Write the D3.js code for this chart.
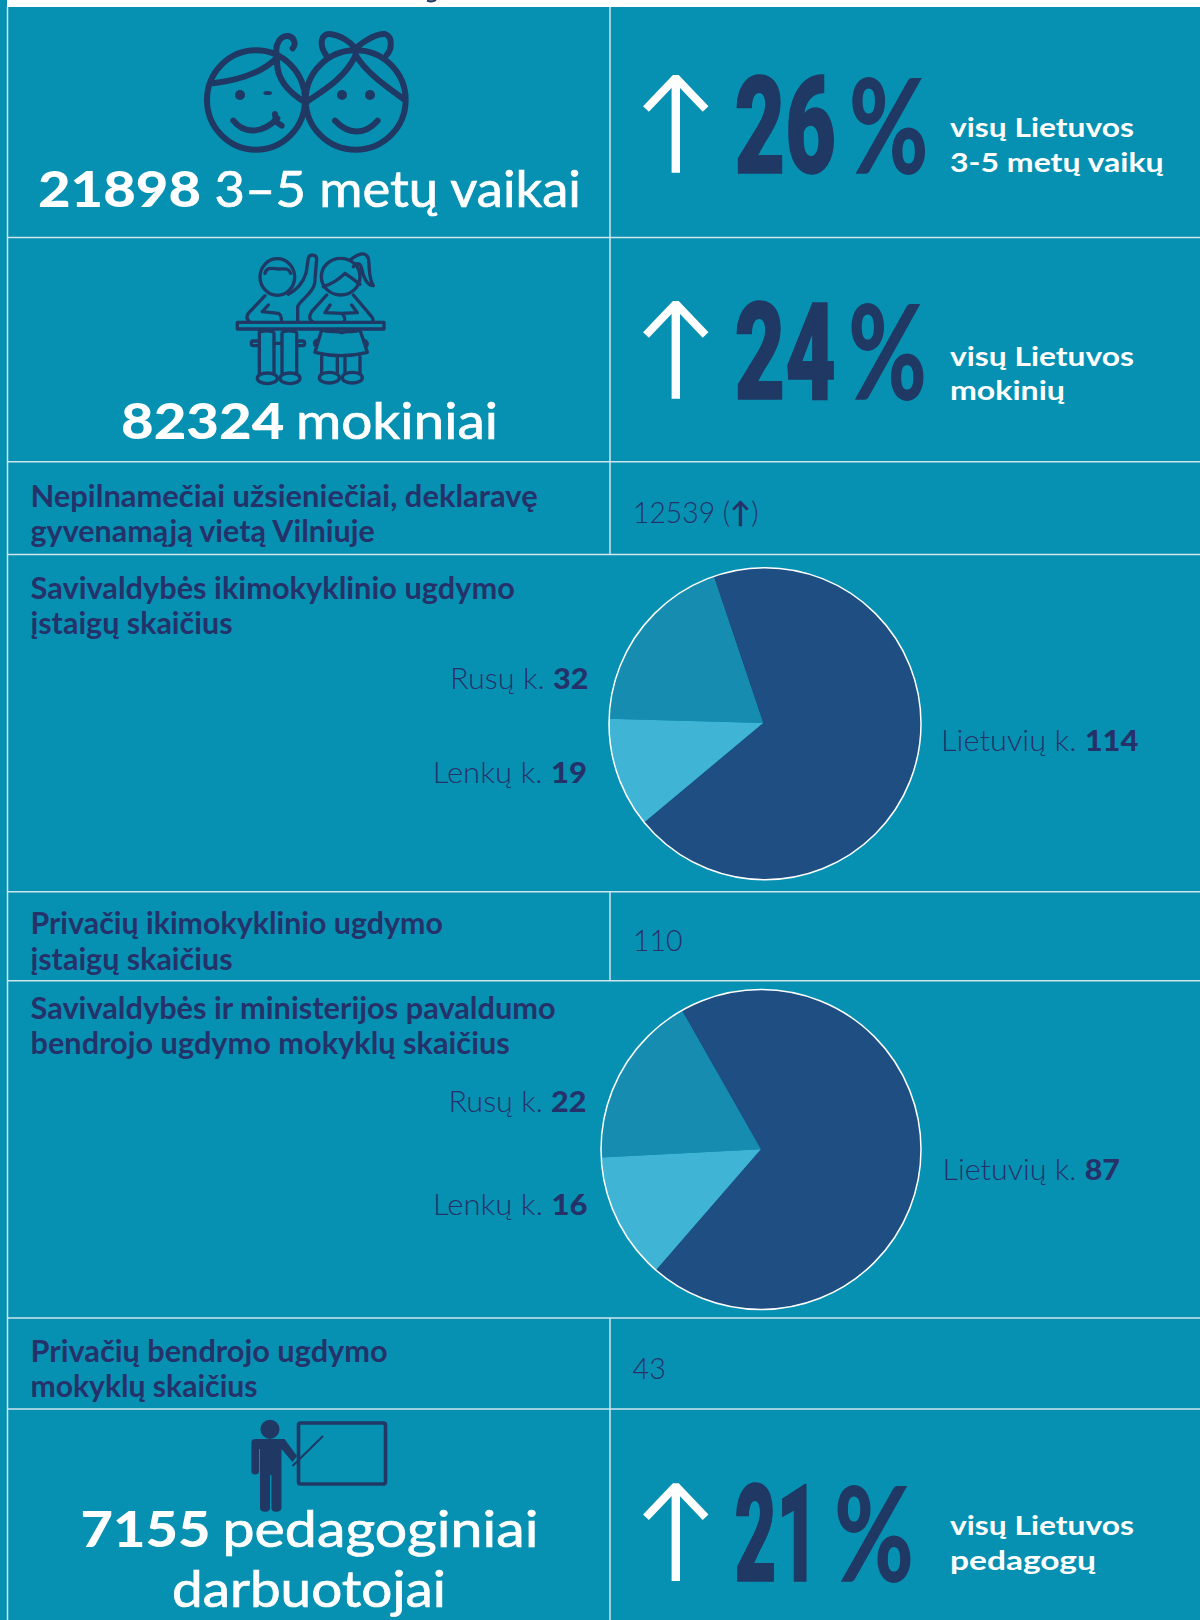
<!DOCTYPE html>
<html>
<head>
<meta charset="utf-8">
<script src="https://cdn.jsdelivr.net/npm/d3@7"></script>
<style>
    html, body { margin: 0; padding: 0; background: #fff; }
    svg { display: block; }
    text { font-family: Lato, "Noto Sans", sans-serif; }
</style>
</head>
<body>
<div id="chart"></div>
<script>
// chart values
let pieCategories = ["Lietuvių k.", "Lenkų k.", "Rusų k."];
let preschoolValues = [114, 19, 32];
let schoolValues = [87, 16, 22];

let statNumbers = ["21898", "82324", "7155"];
let statNames = ["3–5 metų vaikai", "mokiniai", "pedagoginiai"];
let statPercents = ["26", "24", "21"];
let statLine1 = ["visų Lietuvos", "visų Lietuvos", "visų Lietuvos"];
let statLine2 = ["3-5 metų vaikų", "mokinių", "pedagogų"];

let foreignValue = "12539";
let privatePreschoolValue = "110";
let privateSchoolValue = "43";

let bg = "#0691b2";
let lineColor = "#cfe6ee";
let navy = "#1f3864";
let labelNavy = "#25326a";
let pieColors = ["#1e4e82", "#3fb4d4", "#168db0"];

let width = 1200, height = 1620;

let svg = d3.select("#chart").append("svg")
    .attr("width", width)
    .attr("height", height);

svg.append("rect").attr("width", width).attr("height", height).attr("fill", bg);
svg.append("rect").attr("x", 7).attr("width", width - 7).attr("height", 7).attr("fill", "#fff");

// cut off descender from the title above
svg.append("path")
    .attr("d", "M427 0.6 Q432 2.4 436 0")
    .attr("fill", "none").attr("stroke", navy).attr("stroke-width", 2);

// grid
[237.5, 461.7, 554.5, 891.7, 980.7, 1318, 1409].forEach(y => {
    svg.append("line").attr("x1", 7.5).attr("x2", width).attr("y1", y).attr("y2", y)
        .attr("stroke", lineColor).attr("stroke-width", 1.5);
});
svg.append("line").attr("x1", 7.5).attr("x2", 7.5).attr("y1", 7).attr("y2", height)
    .attr("stroke", lineColor).attr("stroke-width", 1.5);
[[7, 554.5], [891.7, 980.7], [1318, 1620]].forEach(s => {
    svg.append("line").attr("x1", 610).attr("x2", 610).attr("y1", s[0]).attr("y2", s[1])
        .attr("stroke", lineColor).attr("stroke-width", 1.5);
});

// text squeezed or stretched to span x0..x1, the picture's font isn't available
function fitText(parts, x0, x1, y, size, fill) {
    let t = svg.append("text")
        .attr("font-size", size)
        .attr("fill", fill);
    parts.forEach(p => {
        t.append("tspan").attr("font-weight", p.w).text(p.t);
    });
    let box = t.node().getBBox();
    let sx = (x1 - x0) / box.width;
    t.attr("transform", `translate(${x0 - box.x * sx},${y}) scale(${sx},1)`);
    return t;
}

// big white headings, number and name are fitted on their own
function heading(number, numEnd, name, x0, nameStart, x1, y) {
    fitText([{t: number, w: 900}], x0 - 1.5, numEnd + 3, y, 50, "#fff");
    fitText([{t: name, w: 400}], nameStart - 2.5, x1 + 3, y, 50, "#fff")
        .attr("stroke", "#fff").attr("stroke-width", 0.7);
}
heading(statNumbers[0], 198, statNames[0], 39.5, 217, 578, 207);
heading(statNumbers[1], 281.4, statNames[1], 122.5, 298.4, 495, 439);
heading(statNumbers[2], 207.5, statNames[2], 82, 225, 535.6, 1546.7);
fitText([{t: "darbuotojai", w: 400}], 172, 446, 1606.7, 50, "#fff")
    .attr("stroke", "#fff").attr("stroke-width", 0.7);

// right column stats
let statRows = [
    {base: 172.7, pctEnd: 833.4, signStart: 850.7, signEnd: 924.5, y1: 136.5, y2: 172.2, end1: 1134, end2: 1163.7},
    {base: 398.7, pctEnd: 833.4, signStart: 850, signEnd: 923, y1: 365.5, y2: 399.5, end1: 1134, end2: 1065},
    {base: 1581, pctEnd: 816, signStart: 836, signEnd: 910, y1: 1534.5, y2: 1569.5, end1: 1134, end2: 1096}
];
statRows.forEach((r, i) => {
    // arrow
    svg.append("path")
        .attr("d", `M675.8 ${r.base} V${r.base - 93}`)
        .attr("fill", "none").attr("stroke", "#fff").attr("stroke-width", 8.4);
    svg.append("path")
        .attr("d", `M646 ${r.base - 63.7} L675.8 ${r.base - 95} L705.6 ${r.base - 63.7}`)
        .attr("fill", "none").attr("stroke", "#fff").attr("stroke-width", 8)
        .attr("stroke-linejoin", "bevel");

    fitText([{t: statPercents[i], w: 900}], 734.5, r.pctEnd + 2.5, r.base, 136, navy)
        .style("font-family", "Roboto")
        .attr("stroke", navy).attr("stroke-width", 1.5);
    fitText([{t: "%", w: 900}], r.signStart - 2, r.signEnd + 4, r.base + 1, 131, navy);

    fitText([{t: statLine1[i], w: 700}], 950, r.end1, r.y1, 27, "#fff");
    fitText([{t: statLine2[i], w: 700}], 950, r.end2, r.y2, 27, "#fff");
});

// row labels
let rowLabels = [
    ["Nepilnamečiai užsieniečiai, deklaravę", 538, 506.5],
    ["gyvenamąją vietą Vilniuje", 375, 541.8],
    ["Savivaldybės ikimokyklinio ugdymo", 515, 599.1],
    ["įstaigų skaičius", 232.6, 633.5],
    ["Privačių ikimokyklinio ugdymo", 443, 933.8],
    ["įstaigų skaičius", 232.6, 970.1],
    ["Savivaldybės ir ministerijos pavaldumo", 556, 1018.5],
    ["bendrojo ugdymo mokyklų skaičius", 510, 1054.1],
    ["Privačių bendrojo ugdymo", 387.8, 1361.5],
    ["mokyklų skaičius", 257.6, 1396.8]
];
rowLabels.forEach(d => fitText([{t: d[0], w: 700}], 30.5, d[1], d[2], 30, labelNavy));

fitText([{t: foreignValue + " (", w: 300}, {t: "↑", w: 700}, {t: ")", w: 300}], 633, 758.7, 523, 29, labelNavy);
fitText([{t: privatePreschoolValue, w: 300}], 633, 682.6, 950.7, 29, labelNavy);
fitText([{t: privateSchoolValue, w: 300}], 632.5, 665.8, 1379, 29, labelNavy);

// pies
function drawPie(values, id, startDeg, cx, cy, ringX, ringY, r) {
    let start = startDeg * Math.PI / 180;
    let pie = d3.pie().sort(null).startAngle(start).endAngle(start + 2 * Math.PI);
    let arc = d3.arc().innerRadius(0).outerRadius(r + 12);

    svg.append("clipPath").attr("id", id)
        .append("circle").attr("cx", ringX).attr("cy", ringY).attr("r", r);

    svg.append("g").attr("clip-path", `url(#${id})`)
        .append("g").attr("transform", `translate(${cx},${cy})`)
        .selectAll("path")
        .data(pie(values))
        .enter().append("path")
        .attr("d", arc)
        .attr("fill", (d, i) => pieColors[i]);

    svg.append("circle").attr("cx", ringX).attr("cy", ringY).attr("r", r)
        .attr("fill", "none").attr("stroke", "#fff").attr("stroke-width", 1.5);
}
drawPie(preschoolValues, "pie-a", -18.6, 763, 723, 765, 723.7, 156);
drawPie(schoolValues, "pie-b", -29.6, 760.7, 1149.3, 761, 1149.5, 160);

function pieLabel(i, values, x0, x1, y) {
    fitText([{t: pieCategories[i] + " ", w: 300}, {t: values[i], w: 900}], x0, x1, y, 29, labelNavy);
}
pieLabel(2, preschoolValues, 450, 588.5, 689.3);
pieLabel(1, preschoolValues, 432.7, 587, 783.2);
pieLabel(0, preschoolValues, 941, 1138.5, 751.2);
pieLabel(2, schoolValues, 448.5, 586.5, 1111.5);
pieLabel(1, schoolValues, 433, 587.5, 1214.5);
pieLabel(0, schoolValues, 942.5, 1120, 1179.5);

// icons, drawn in the 3x coordinates of the crop
function outlined(sel, w) {
    return sel.attr("fill", "none").attr("stroke", navy).attr("stroke-width", w)
        .attr("stroke-linecap", "round").attr("stroke-linejoin", "round");
}

let kids = svg.append("g").attr("transform", "translate(190,20) scale(0.3333)");
outlined(kids.append("path"), 18).attr("d", [
    "M198 91 A147 149 0 1 0 198.1 389 A147 149 0 1 0 198 91",
    "M497 91 A150 149 0 1 0 497.1 389 A150 149 0 1 0 497 91",
    "M70 190 C150 180 220 155 262 112",
    "M262 112 C255 170 290 215 350 250",
    "M262 112 C250 70 275 45 295 48 C315 52 318 75 308 85",
    "M350 245 C420 200 470 165 497 105 C530 160 590 200 645 240",
    "M408 105 C385 70 395 40 420 42 C450 45 480 65 497 85 C530 55 565 40 585 42 C610 50 605 90 590 105",
    "M130 302 C165 345 220 340 262 295",
    "M255 282 L258 305 L275 317",
    "M435 302 C475 345 525 345 563 302"
].join(" "));
[[150, 225], [456, 225], [540, 225]].forEach(p => {
    kids.append("circle").attr("cx", p[0]).attr("cy", p[1]).attr("r", 15).attr("fill", navy);
});
kids.append("ellipse").attr("cx", 233).attr("cy", 219).attr("rx", 13).attr("ry", 6).attr("fill", navy);

let pupils = svg.append("g").attr("transform", "translate(220,245) scale(0.3333)");
outlined(pupils.append("path"), 10).attr("d", [
    // boy
    "M172 41 A52 55 0 1 0 172.1 151 A52 55 0 1 0 172 41",
    "M135 85 C140 65 155 70 175 72 C195 72 205 68 212 85",
    "M205 148 C230 135 250 110 258 85 L265 40 C268 25 290 28 290 42 L284 115 C280 145 240 165 233 185 L233 232",
    "M135 152 L85 205 C75 220 85 228 90 232",
    "M145 180 L127 200 L175 205 C185 210 185 225 185 232",
    "M118 255 L118 385 M162 265 C162 255 118 255 118 265 M162 265 L162 385",
    "M186 265 C186 255 230 255 230 265 L230 385 M186 265 L186 385",
    "M118 288 L100 288 C92 288 92 302 100 302 L118 302 M162 295 L186 295 M230 288 L248 288 C256 288 256 302 248 302 L230 302",
    // girl
    "M362 40 A58 55 0 1 0 362.1 150 A58 55 0 1 0 362 40",
    "M310 125 C340 115 365 95 375 85 C390 95 410 110 420 118",
    "M390 45 C410 30 435 15 445 40 C450 70 445 100 460 122 C440 120 430 95 425 70 C420 50 405 55 400 65",
    "M320 150 L275 200 C262 220 275 230 280 232",
    "M400 150 L455 215 C462 225 460 230 455 232",
    "M330 180 L315 203 L365 205 C375 210 375 225 372 232 M395 180 L412 203 L365 205",
    "M305 255 C330 265 350 255 365 263 C385 255 400 265 420 255 L442 322 C390 335 335 335 285 322 Z",
    "M305 335 L305 383 M352 335 L352 383 M375 335 L375 383 M420 335 L420 383",
    "M292 285 C280 290 282 300 290 304 M432 285 C444 290 444 300 438 304"
].join(" "));
[[142, 400], [210, 400], [328, 398], [397, 398]].forEach(p => {
    outlined(pupils.append("ellipse"), 10).attr("cx", p[0]).attr("cy", p[1]).attr("rx", 30).attr("ry", 16);
});
outlined(pupils.append("rect"), 10).attr("x", 52).attr("y", 232).attr("width", 440).attr("height", 20);

let teacher = svg.append("g");
teacher.append("rect").attr("x", 298.5).attr("y", 1423).attr("width", 87).attr("height", 61).attr("rx", 2)
    .attr("fill", "none").attr("stroke", navy).attr("stroke-width", 3.6);
teacher.append("ellipse").attr("cx", 270).attr("cy", 1429.3).attr("rx", 9.5).attr("ry", 9.6).attr("fill", navy);
teacher.append("path").attr("fill", navy)
    .attr("d", "M255 1439 H284.5 L297 1456 L292.5 1462 L281.5 1449 V1508 Q281.5 1511.7 276 1511.7 Q271.4 1511.7 271.4 1508 V1475 H270 V1508 Q270 1511.7 265 1511.7 Q260 1511.7 260 1508 V1449 H259 V1471 Q259 1474.5 255.2 1474.5 Q251.4 1474.5 251.4 1471 V1443 Q251.4 1439 255 1439 Z");
teacher.append("line").attr("x1", 292.5).attr("y1", 1466).attr("x2", 323).attr("y2", 1436)
    .attr("stroke", navy).attr("stroke-width", 2);
</script>
</body>
</html>
